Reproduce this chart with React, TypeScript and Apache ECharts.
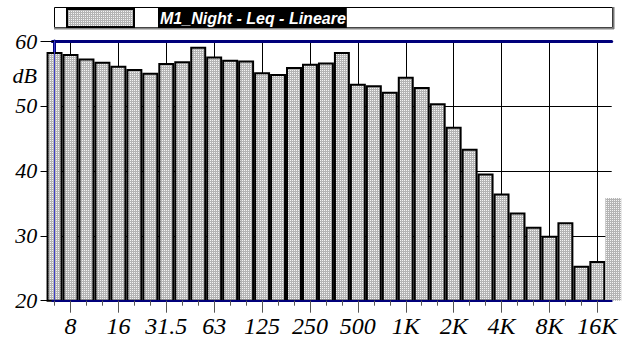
import React, { useEffect, useRef } from 'react';
import * as echarts from 'echarts';

const bands = ['6.3', '8', '10', '12.5', '16', '20', '25', '31.5', '40', '50', '63', '80', '100', '125', '160', '200', '250', '315', '400', '500', '630', '800', '1K', '1.25K', '1.6K', '2K', '2.5K', '3.15K', '4K', '5K', '6.3K', '8K', '10K', '12.5K', '16K', '20K'];
const values = [58.3, 58.0, 57.3, 56.8, 56.2, 55.7, 55.1, 56.6, 56.9, 59.1, 57.6, 57.1, 57.0, 55.2, 54.9, 56.0, 56.5, 56.7, 58.3, 53.4, 53.2, 52.2, 54.5, 52.9, 50.4, 46.8, 43.4, 39.6, 36.5, 33.6, 31.4, 30.0, 32.1, 25.4, 26.1, 35.8];
const tickLabels = ['8', '16', '31.5', '63', '125', '250', '500', '1K', '2K', '4K', '8K', '16K'];
const yMin = 20;
const yMax = 60;
const yStep = 10;
const seriesName = 'M1_Night - Leq - Lineare';
const unitLabel = 'dB';

export default function App() {
  const ref = useRef<HTMLDivElement>(null);
  useEffect(() => {
    document.body.style.margin = '0';
    const css = document.createElement('style');
    css.textContent = '#root svg text { font-style: italic !important; }';
    document.head.appendChild(css);
    const chart = echarts.init(ref.current as HTMLDivElement, null, { renderer: 'svg' });

    const cv = document.createElement('canvas');
    cv.width = 2;
    cv.height = 2;
    const ctx = cv.getContext('2d') as CanvasRenderingContext2D;
    ctx.fillStyle = '#b4b4b4';
    ctx.fillRect(0, 0, 2, 2);
    ctx.fillStyle = '#f4f4f4';
    ctx.fillRect(0, 0, 1, 1);
    const pattern: any = { image: cv, repeat: 'repeat', imageWidth: 2, imageHeight: 2 };

    const allIdx = bands.map((_, i) => i).filter((i) => i <= 34);
    const majorIdx = tickLabels.map((t) => bands.indexOf(t));
    const xMin = -0.14;
    const xMax = 34.9;
    const serif = 'Times New Roman';
    const sans = 'Liberation Sans';
    const navy = '#00007a';

    const data = values.map((v, i) =>
      i === values.length - 1
        ? { value: [i, v], itemStyle: { borderWidth: 0 } }
        : { value: [i, v] }
    );

    chart.setOption({
      animation: false,
      grid: { left: 52.3, right: 12.3, top: 41, bottom: 40.3 },
      legend: {
        show: true,
        left: 66,
        top: 8,
        padding: 0,
        itemWidth: 67,
        itemHeight: 18,
        icon: 'rect',
        selectedMode: false,
        data: [seriesName],
        formatter: (n: string) => `{g|}{t|${n}}`,
        textStyle: {
          rich: {
            g: { width: 19 },
            t: {
              color: '#fff',
              backgroundColor: '#000',
              fontFamily: sans,
              fontWeight: 'bold',
              fontStyle: 'italic',
              fontSize: 16,
              padding: [2, 1, 2, 2],
              lineHeight: 16,
            },
          },
        },
      },
      graphic: [
        {
          type: 'rect',
          z: -10,
          shape: { x: 54.5, y: 7.5, width: 558, height: 20 },
          style: { fill: '#fff', stroke: '#000', lineWidth: 1 },
        },
        {
          type: 'line',
          z: -9,
          shape: { x1: 54, y1: 28.5, x2: 614, y2: 28.5 },
          style: { stroke: '#888', lineWidth: 2 },
        },
        {
          type: 'line',
          z: -9,
          shape: { x1: 613.5, y1: 7, x2: 613.5, y2: 29 },
          style: { stroke: '#777', lineWidth: 2 },
        },
        {
          type: 'text',
          x: 37,
          y: 75,
          style: {
            text: unitLabel,
            fontFamily: serif,
            fontStyle: 'italic',
            fontSize: 22,
            fill: '#000',
            align: 'right',
            verticalAlign: 'middle',
          },
        },
      ],
      xAxis: [
        {
          type: 'value',
          min: xMin,
          max: xMax,
          position: 'bottom',
          z: 10,
          axisLine: { show: true, lineStyle: { color: navy, width: 2 } },
          axisTick: { show: true, customValues: allIdx, length: 5, lineStyle: { color: '#555', width: 1 } },
          axisLabel: { show: false },
          splitLine: { show: false },
        },
        {
          type: 'value',
          min: xMin,
          max: xMax,
          position: 'bottom',
          axisLine: { show: false },
          axisTick: { show: true, customValues: majorIdx, length: 12, lineStyle: { color: '#555', width: 1 } },
          axisLabel: {
            show: true,
            customValues: majorIdx,
            formatter: (v: number) => bands[Math.round(v)],
            fontFamily: serif,
            fontStyle: 'italic',
            fontSize: 24,
            color: '#000',
            margin: 13,
          },
          splitLine: { show: true, lineStyle: { color: '#000', width: 1 } },
        },
        {
          type: 'value',
          min: xMin,
          max: xMax,
          position: 'top',
          axisLine: { show: true, lineStyle: { color: navy, width: 3 } },
          axisTick: { show: false },
          axisLabel: { show: false },
          splitLine: { show: false },
        },
      ],
      yAxis: [
        {
          type: 'value',
          min: yMin,
          max: yMax,
          interval: yStep,
          position: 'left',
          axisLine: { show: false },
          axisTick: { show: true, length: 14, lineStyle: { color: '#000', width: 1 } },
          minorTick: { show: true, splitNumber: 5, length: 4, lineStyle: { color: '#000', width: 1 } },
          axisLabel: {
            fontFamily: serif,
            fontStyle: 'italic',
            fontSize: 22,
            color: '#000',
            margin: 15,
          },
          splitLine: { show: true, lineStyle: { color: '#000', width: 1 } },
        },
        {
          type: 'value',
          min: yMin,
          max: yMax,
          position: 'right',
          axisLine: { show: true, lineStyle: { color: navy, width: 3 } },
          axisTick: { show: false },
          axisLabel: { show: false },
          splitLine: { show: false },
        },
        {
          type: 'value',
          min: yMin,
          max: yMax,
          position: 'left',
          z: 10,
          axisLine: { show: true, lineStyle: { color: '#3c3cc8', width: 1 } },
          axisTick: { show: false },
          axisLabel: { show: false },
          splitLine: { show: false },
        },
      ],
      series: [
        {
          name: seriesName,
          type: 'bar',
          xAxisIndex: 0,
          yAxisIndex: 0,
          barWidth: 15.96,
          clip: true,
          itemStyle: { color: pattern, borderColor: '#000', borderWidth: 2 },
          data,
        },
      ],
    });
    return () => {
      chart.dispose();
      css.remove();
    };
  }, []);
  return <div ref={ref} style={{ position: 'absolute', left: 0, top: 0, width: 624, height: 341 }} />;
}
